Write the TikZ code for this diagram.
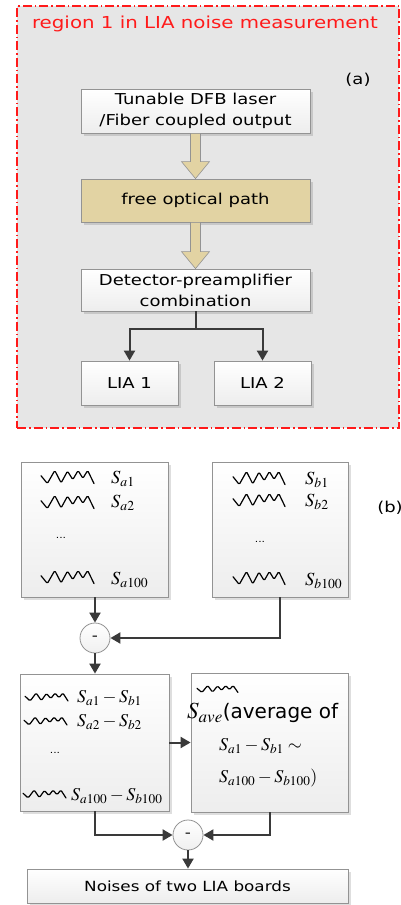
\documentclass[tikz,border=0pt]{standalone}
\usepackage{mathptmx}
\usepackage[no-math]{fontspec}
\setmainfont{DejaVu Sans}[FakeStretch=1.2]
\newfontfamily\avgfont{DejaVu Sans}
\usetikzlibrary{shadows,arrows.meta,calc}
\definecolor{regionbg}{HTML}{E6E6E6}
\definecolor{beige}{HTML}{E2D3A3}
\definecolor{conn}{HTML}{3A3A3A}
\definecolor{bord}{HTML}{939393}
\definecolor{regred}{HTML}{FF1A1A}
% \wavedraw{x}{y}{width}{height}
\newcommand\wavedraw[4]{%
  \draw[wavestyle]
    ({#1},{#2-0.1*#4}) -- ({#1+0.12*#3},{#2+0.5*#4}) -- ({#1+0.26*#3},{#2-0.5*#4})
    -- ({#1+0.38*#3},{#2+0.45*#4}) -- ({#1+0.5*#3},{#2-0.45*#4}) -- ({#1+0.6*#3},{#2+0.2*#4})
    -- ({#1+0.7*#3},{#2-0.5*#4}) -- ({#1+0.79*#3},{#2+0.1*#4}) -- ({#1+0.88*#3},{#2-0.5*#4})
    -- ({#1+#3},{#2+0.5*#4});}
\begin{document}
\begin{tikzpicture}[x=1pt,y=-1pt,
  box/.style={draw=bord, line width=0.8pt, top color=white, bottom color=gray!14,
    drop shadow={shadow xshift=2.5pt, shadow yshift=-2.5pt, fill=black, opacity=0.13},
    inner sep=0pt, align=center, font=\fontsize{15}{21}\selectfont},
  beigebox/.style={box, top color=beige, bottom color=beige},
  circ/.style={circle, draw=bord, line width=0.8pt, top color=white, bottom color=gray!12,
    minimum size=30pt, inner sep=0pt, font=\fontsize{14}{14}\selectfont},
  conn/.style={draw=conn, line width=2pt, -{Triangle[length=10pt,width=11pt]}},
  blockarrow/.style={fill=beige, draw=bord, line width=0.6pt, line join=miter},
  lbl/.style={anchor=west, inner sep=0pt, font=\fontsize{18.5}{20}\selectfont},
  lblc/.style={anchor=west, inner sep=0pt, font=\fontsize{18}{20}\selectfont},
  dots/.style={inner sep=0pt, font=\fontsize{9}{10}\selectfont},
  wavestyle/.style={line width=1.2pt, line join=round, line cap=round, rounded corners=1.3pt}
]
\useasboundingbox (0,0) rectangle (401,905);

% ---------- region (a) ----------
\node[draw=regred, fill=regionbg, line width=1.3pt,
  dash pattern=on 9pt off 3pt on 1.5pt off 3pt,
  minimum width=382pt, minimum height=422pt, inner sep=0pt] (region) at (208,217) {};
\node[text=regred, inner sep=0pt, font=\fontsize{16.5}{20}\selectfont] (title) at (205,24) {region 1 in LIA noise measurement};
\node[inner sep=0pt, font=\fontsize{15}{18}\selectfont] (la) at (358,80) {(a)};

\node[box, minimum width=229pt, minimum height=44pt] (b1) at (195.5,111) {Tunable DFB laser\\/Fiber coupled output};
\node[beigebox, minimum width=229pt, minimum height=43pt] (b2) at (195.5,200.5) {free optical path};
\node[box, minimum width=229pt, minimum height=42pt] (b3) at (195.5,290) {Detector-preamplifier\\combination};
\node[box, minimum width=97pt, minimum height=44pt] (lia1) at (129.5,383) {LIA 1};
\node[box, minimum width=97pt, minimum height=44pt] (lia2) at (262.5,383) {LIA 2};

\draw[blockarrow] ($(b1.south)+(-5,0)$) -- ($(b2.north)+(-5,-17)$) -- ($(b2.north)+(-14,-17)$)
  -- (b2.north) -- ($(b2.north)+(14,-17)$) -- ($(b2.north)+(5,-17)$) -- ($(b1.south)+(5,0)$) -- cycle;
\draw[blockarrow] ($(b2.south)+(-5,0)$) -- ($(b3.north)+(-5,-17)$) -- ($(b3.north)+(-14,-17)$)
  -- (b3.north) -- ($(b3.north)+(14,-17)$) -- ($(b3.north)+(5,-17)$) -- ($(b2.south)+(5,0)$) -- cycle;

\coordinate (split) at ($(b3.south)+(0,18)$);
\draw[conn] (b3.south) -- (split) -| (lia1.north);
\draw[conn] (b3.south) -- (split) -| (lia2.north);

% ---------- part (b) ----------
\node[inner sep=0pt, font=\fontsize{15}{18}\selectfont] (lb) at (390,508) {(b)};

\node[box, minimum width=147pt, minimum height=135pt] (A) at (94.5,529.5) {};
\node[box, minimum width=136pt, minimum height=135pt] (B) at (280,529.5) {};

\wavedraw{41}{477}{53}{13}
\wavedraw{41}{502}{53}{13}
\wavedraw{41}{577}{53}{13}
\node[lbl] (sa1) at (111,479) {$S_{a1}$};
\node[lbl] (sa2) at (111,503) {$S_{a2}$};
\node[dots] (da) at (61,538) {...};
\node[lbl] (sa100) at (111,580) {$S_{a100}$};

\wavedraw{233}{478}{52}{13}
\wavedraw{233}{500}{52}{13}
\wavedraw{233}{578}{52}{13}
\node[lbl] (sb1) at (305,480) {$S_{b1}$};
\node[lbl] (sb2) at (305,502) {$S_{b2}$};
\node[dots] (db) at (260,542) {...};
\node[lbl] (sb100) at (305,581) {$S_{b100}$};

\node[circ] (c1) at (95,638) {-};

\node[box, minimum width=149pt, minimum height=137pt] (C) at (94.5,742.5) {};
\node[box, minimum width=157pt, minimum height=139pt] (D) at (269.5,742.5) {};

\wavedraw{25}{697}{43}{8}
\wavedraw{24}{721}{43}{8}
\wavedraw{23}{794}{43}{8}
\node[lblc] (d1) at (77,698) {$S_{a1}-S_{b1}$};
\node[lblc] (d2) at (77,722) {$S_{a2}-S_{b2}$};
\node[dots] (dc) at (55,753) {...};
\node[lblc] (d100) at (71,796) {$S_{a100}-S_{b100}$};

\wavedraw{197}{689}{41}{7}
\node[anchor=west, inner sep=0pt] (ave) at (187,713) {{\fontsize{23}{24}\selectfont$S_{\mathit{ave}}$}{\avgfont\fontsize{20}{24}\selectfont(average of}};
\node[lblc] (avg1) at (219,746) {$S_{a1}-S_{b1}\sim$};
\node[lblc] (avg2) at (219,778) {$S_{a100}-S_{b100})$};

\node[circ] (c2) at (188,835) {-};
\node[box, minimum width=321pt, minimum height=34pt, font=\fontsize{14}{18}\selectfont] (E) at (187.5,886) {Noises of two LIA boards};

\draw[conn] (c1.north |- A.south) -- (c1.north);
\draw[conn] (B.south) |- (c1.east);
\draw[conn] (c1.south) -- (c1.south |- C.north);
\draw[conn] (C.east) -- (D.west);
\draw[conn] (C.south) |- (c2.west);
\draw[conn] (D.south) |- (c2.east);
\draw[conn] (c2.south) -- (c2.south |- E.north);
\end{tikzpicture}
\end{document}
